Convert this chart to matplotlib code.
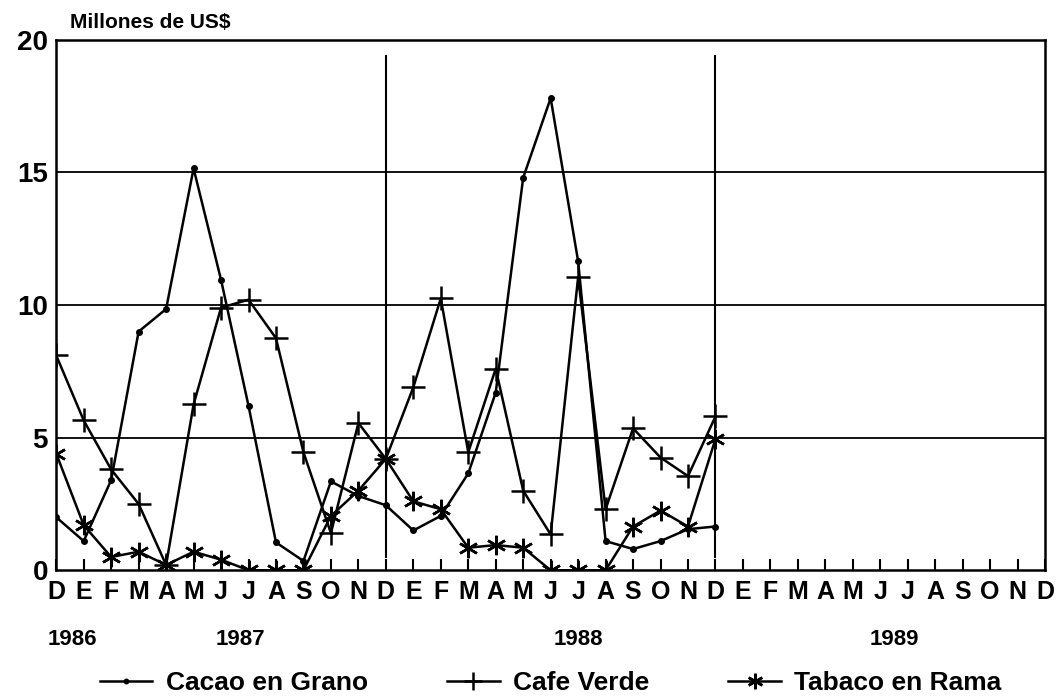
import matplotlib
matplotlib.use("Agg")
import matplotlib.pyplot as plt
import numpy as np

plt.rcParams["font.family"] = ["Liberation Sans", "DejaVu Sans"]
plt.rcParams["font.weight"] = "bold"

# month labels Dec 1986 .. Dec 1989
MONTHS = ["D"] + ["E", "F", "M", "A", "M", "J", "J", "A", "S", "O", "N", "D"] * 3
YEARS = ["1986", "1987", "1988", "1989"]
YEAR_POS = [0.6, 6.7, 19.0, 30.5]

# monthly exports, millions of US$ (Dec 1986 .. Dec 1988)
cacao = [2.0, 1.1, 3.4, 9.0, 9.85, 15.15, 10.95, 6.2, 1.05, 0.35, 3.35, 2.8,
         2.45, 1.5, 2.05, 3.65, 6.7, 14.8, 17.8, 11.65, 1.1, 0.8, 1.1, 1.55, 1.65]
cafe = [8.1, 5.65, 3.8, 2.5, 0.2, 6.25, 9.9, 10.2, 8.75, 4.45, 1.4, 5.55,
        4.2, 6.9, 10.25, 4.45, 7.6, 3.0, 1.35, 11.05, 2.3, 5.35, 4.25, 3.55, 5.8]
tabaco = [4.4, 1.7, 0.5, 0.7, 0.2, 0.7, 0.4, 0.0, 0.0, 0.0, 2.05, 3.0,
          4.2, 2.6, 2.3, 0.85, 0.95, 0.85, 0.0, 0.0, 0.0, 1.65, 2.25, 1.65, 4.95]
labels = ["Cacao en Grano", "Cafe Verde", "Tabaco en Rama"]

fig = plt.figure(figsize=(10.61, 6.98), dpi=100)
ax = fig.add_axes([0.053, 0.183, 0.932, 0.76])

x = np.arange(len(cacao))
lw = 1.8
ax.plot(x, cacao, color="black", lw=lw, marker="o", ms=4, label=labels[0])
ax.plot(x, cafe, color="black", lw=lw, marker="+", ms=17, mew=1.8, label=labels[1])
ax.plot(x, tabaco, color="black", lw=lw, marker=(6, 2, 0), ms=14, mew=1.8,
        label=labels[2])

# gridlines and year separators
for yv in [5, 10, 15]:
    ax.axhline(yv, color="black", lw=1.3, zorder=0)
for xv in [12, 24]:
    ax.plot([xv, xv], [0.5, 19.4], color="black", lw=1.5, zorder=0)

ax.set_xlim(0, 36)
ax.set_ylim(0, 20)
ax.set_yticks([0, 5, 10, 15, 20])
ax.set_yticklabels(["0", "5", "10", "15", "20"], fontsize=20, fontweight="bold")
ax.set_xticks(np.arange(len(MONTHS)))
ax.set_xticklabels(MONTHS, fontsize=18, fontweight="bold")
ax.tick_params(axis="x", direction="in", length=8, width=1.5, pad=7)
ax.tick_params(axis="y", length=0, pad=6)
for s in ax.spines.values():
    s.set_linewidth(1.8)

for yr, xp in zip(YEARS, YEAR_POS):
    ax.text(xp, -2.6, yr, ha="center", va="center", fontsize=16,
            fontweight="bold", clip_on=False)

fig.text(0.066, 0.968, "Millones de US$", fontsize=15, fontweight="bold",
         ha="left", va="center")

ax.legend(loc="upper center", bbox_to_anchor=(0.5, -0.145), ncol=3, frameon=False,
          prop={"weight": "bold", "size": 19}, handlelength=2.0,
          columnspacing=3.0, handletextpad=0.5, markerscale=0.8)

fig.savefig("out.png", dpi=100)
